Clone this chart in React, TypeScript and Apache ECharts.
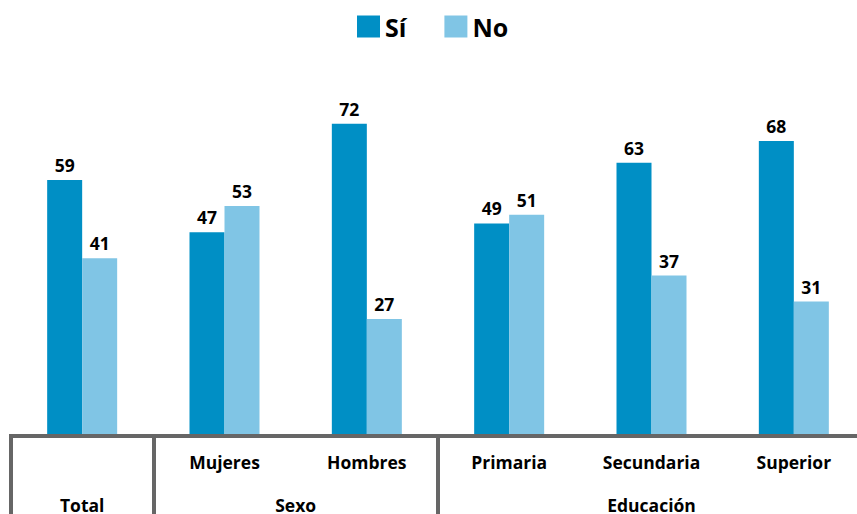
import React, { useEffect, useRef } from "react";
import * as echarts from "echarts";

const categories = ["Total", "Mujeres", "Hombres", "Primaria", "Secundaria", "Superior"];
const siValues = [59, 47, 72, 49, 63, 68];
const noValues = [41, 53, 27, 51, 37, 31];
const groupNames = ["Total", "Sexo", "Educación"];
const groupSizes = [1, 2, 3];
const seriesNames = ["Sí", "No"];

const FONT = "'Open Sans', 'Noto Sans', sans-serif";
const GRAY = "#666666";

export default function App() {
  const ref = useRef<HTMLDivElement>(null);

  useEffect(() => {
    document.body.style.margin = "0";
    document.body.style.overflow = "hidden";
    if (!ref.current) return;
    const chart = echarts.init(ref.current, undefined, { renderer: "svg" });

    const boundaries: number[] = [0];
    const centers: number[] = [];
    let acc = 0;
    groupSizes.forEach((s) => {
      centers.push(acc + s / 2);
      acc += s;
      boundaries.push(acc);
    });
    const innerBoundaries = boundaries.slice(0, boundaries.length - 1);

    const labelStyle = {
      show: true,
      position: "top" as const,
      distance: 6,
      color: "#000",
      fontFamily: FONT,
      fontWeight: "bold" as const,
      fontSize: 17.5,
    };

    chart.setOption({
      animation: false,
      legend: {
        data: seriesNames,
        top: 9,
        left: 352,
        icon: "rect",
        itemWidth: 23,
        itemHeight: 22,
        itemGap: 38,
        textStyle: {
          color: "#000",
          fontFamily: FONT,
          fontWeight: "bold",
          fontSize: 25,
        },
      },
      grid: { left: 11, right: 0, top: 89, bottom: 73, containLabel: false },
      xAxis: [
        {
          type: "category",
          data: categories,
          position: "bottom",
          z: 5,
          axisLine: { show: true, lineStyle: { color: GRAY, width: 4, cap: "square" } },
          axisTick: { show: false },
          axisLabel: {
            margin: 17,
            color: "#000",
            fontFamily: FONT,
            fontWeight: "bold",
            fontSize: 17.5,
            formatter: (v: string) => (groupNames.includes(v) ? "" : v),
          },
        },
        {
          type: "value",
          min: 0,
          max: categories.length,
          position: "bottom",
          z: 5,
          axisLine: { show: false },
          splitLine: { show: false },
          axisTick: {
            show: true,
            customValues: innerBoundaries,
            length: 80,
            lineStyle: { color: GRAY, width: 4 },
          },
          axisLabel: {
            show: true,
            customValues: centers,
            margin: 60,
            color: "#000",
            fontFamily: FONT,
            fontWeight: "bold",
            fontSize: 17.5,
            formatter: (v: number) => {
              const i = centers.findIndex((c) => Math.abs(c - v) < 1e-6);
              return i >= 0 ? groupNames[i] : "";
            },
          },
        },
      ],
      yAxis: {
        type: "value",
        min: 0,
        max: 80,
        show: false,
        splitLine: { show: false },
      },
      series: [
        {
          name: seriesNames[0],
          type: "bar",
          xAxisIndex: 0,
          data: siValues,
          barWidth: 35,
          barGap: "0%",
          itemStyle: { color: "#008FC5" },
          label: labelStyle,
        },
        {
          name: seriesNames[1],
          type: "bar",
          xAxisIndex: 0,
          data: noValues,
          barWidth: 35,
          barGap: "0%",
          itemStyle: { color: "#80C5E5" },
          label: labelStyle,
        },
      ],
    });

    return () => chart.dispose();
  }, []);

  return <div ref={ref} style={{ width: 865, height: 514 }} />;
}
